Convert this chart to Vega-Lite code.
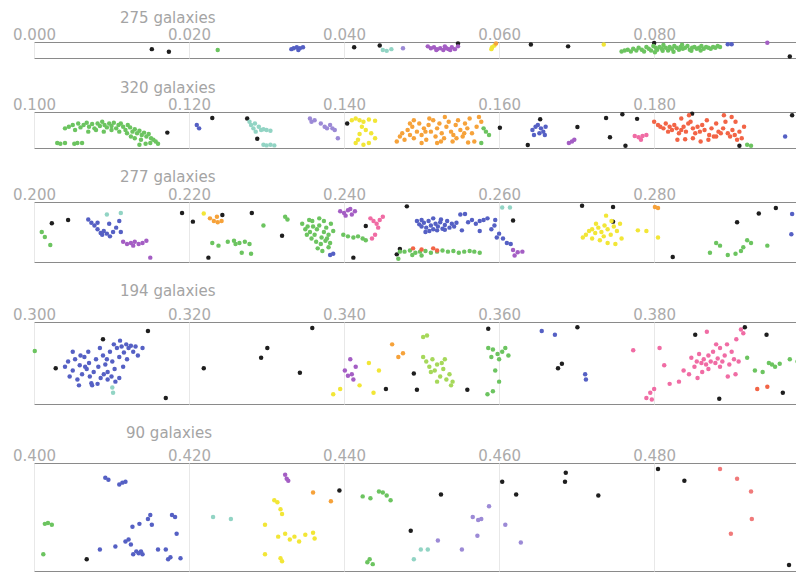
{
"$schema": "https://vega.github.io/schema/vega-lite/v6.json",
"background": "white",
"padding": {"left": 12, "top": 10, "right": 0, "bottom": 0},
"spacing": 20,
"config": {
 "view": {"stroke": "#8a8a8a", "strokeWidth": 1},
 "axis": {"labelFont": "DejaVu Sans", "labelFontSize": 15, "labelColor": "#ababab", "labelFlush": false, "ticks": false, "domain": false, "grid": true, "gridColor": "#e8e8e8", "labelPadding": 0, "title": null},
 "title": {"font": "DejaVu Sans", "fontSize": 15, "fontWeight": "normal", "color": "#a4a4a4", "anchor": "start", "frame": "group", "offset": 1, "dx": 86},
 "circle": {"size": 20, "opacity": 1}
},
"data": {"values": [
{"z":0.0152,"d":0.44,"g":"k"},{"z":0.0174,"d":0.62,"g":"k"},{"z":0.0413,"d":0.31,"g":"k"},{"z":0.0446,"d":0.19,"g":"k"},{"z":0.0547,"d":0.05,"g":"k"},{"z":0.0641,"d":0.12,"g":"k"},{"z":0.0689,"d":0.25,"g":"k"},{"z":0.08,"d":0.02,"g":"k"},{"z":0.0975,"d":0.94,"g":"k"},
{"z":0.0237,"d":0.5,"g":"gr"},
{"z":0.0332,"d":0.44,"g":"bl"},{"z":0.0335,"d":0.38,"g":"bl"},{"z":0.0339,"d":0.31,"g":"bl"},{"z":0.0343,"d":0.38,"g":"bl"},{"z":0.0347,"d":0.31,"g":"bl"},{"z":0.0341,"d":0.5,"g":"bl"},
{"z":0.045,"d":0.5,"g":"te"},{"z":0.0455,"d":0.56,"g":"te"},{"z":0.0461,"d":0.44,"g":"te"},
{"z":0.0476,"d":0.38,"g":"lb"},
{"z":0.0508,"d":0.25,"g":"pu"},{"z":0.0512,"d":0.38,"g":"pu"},{"z":0.0516,"d":0.31,"g":"pu"},{"z":0.052,"d":0.44,"g":"pu"},{"z":0.0524,"d":0.38,"g":"pu"},{"z":0.0528,"d":0.5,"g":"pu"},{"z":0.0532,"d":0.38,"g":"pu"},{"z":0.0535,"d":0.44,"g":"pu"},{"z":0.0539,"d":0.31,"g":"pu"},{"z":0.0543,"d":0.44,"g":"pu"},{"z":0.0547,"d":0.25,"g":"pu"},{"z":0.053,"d":0.25,"g":"pu"},{"z":0.0519,"d":0.5,"g":"pu"},{"z":0.0537,"d":0.5,"g":"pu"},
{"z":0.0591,"d":0.31,"g":"ye"},{"z":0.0594,"d":0.19,"g":"ye"},{"z":0.059,"d":0.44,"g":"ye"},{"z":0.0735,"d":0.12,"g":"ye"},
{"z":0.0596,"d":0.05,"g":"or"},
{"z":0.0758,"d":0.6,"g":"gr"},{"z":0.0762,"d":0.54,"g":"gr"},{"z":0.0766,"d":0.48,"g":"gr"},{"z":0.077,"d":0.6,"g":"gr"},{"z":0.0773,"d":0.41,"g":"gr"},{"z":0.0777,"d":0.54,"g":"gr"},{"z":0.078,"d":0.35,"g":"gr"},{"z":0.0784,"d":0.48,"g":"gr"},{"z":0.0787,"d":0.6,"g":"gr"},{"z":0.079,"d":0.29,"g":"gr"},{"z":0.0793,"d":0.41,"g":"gr"},{"z":0.0796,"d":0.54,"g":"gr"},{"z":0.0799,"d":0.22,"g":"gr"},{"z":0.0802,"d":0.35,"g":"gr"},{"z":0.0804,"d":0.48,"g":"gr"},{"z":0.0807,"d":0.29,"g":"gr"},{"z":0.081,"d":0.41,"g":"gr"},{"z":0.0812,"d":0.16,"g":"gr"},{"z":0.0815,"d":0.35,"g":"gr"},{"z":0.0818,"d":0.54,"g":"gr"},{"z":0.082,"d":0.29,"g":"gr"},{"z":0.0823,"d":0.41,"g":"gr"},{"z":0.0826,"d":0.22,"g":"gr"},{"z":0.0829,"d":0.35,"g":"gr"},{"z":0.0832,"d":0.48,"g":"gr"},{"z":0.0834,"d":0.29,"g":"gr"},{"z":0.0837,"d":0.41,"g":"gr"},{"z":0.084,"d":0.35,"g":"gr"},{"z":0.0843,"d":0.22,"g":"gr"},{"z":0.0846,"d":0.48,"g":"gr"},{"z":0.0849,"d":0.35,"g":"gr"},{"z":0.0852,"d":0.29,"g":"gr"},{"z":0.0855,"d":0.41,"g":"gr"},{"z":0.0858,"d":0.35,"g":"gr"},{"z":0.0861,"d":0.22,"g":"gr"},{"z":0.0864,"d":0.41,"g":"gr"},{"z":0.0867,"d":0.29,"g":"gr"},{"z":0.087,"d":0.35,"g":"gr"},{"z":0.0873,"d":0.41,"g":"gr"},{"z":0.0876,"d":0.29,"g":"gr"},{"z":0.0879,"d":0.35,"g":"gr"},{"z":0.0882,"d":0.22,"g":"gr"},{"z":0.0885,"d":0.29,"g":"gr"},{"z":0.0801,"d":0.66,"g":"gr"},{"z":0.0811,"d":0.56,"g":"gr"},{"z":0.0825,"d":0.62,"g":"gr"},{"z":0.0836,"d":0.14,"g":"gr"},{"z":0.0848,"d":0.56,"g":"gr"},{"z":0.086,"d":0.54,"g":"gr"},
{"z":0.0895,"d":0.1,"g":"bl"},{"z":0.09,"d":0.1,"g":"bl"},
{"z":0.0946,"d":0.0,"g":"pu"},

{"z":0.1172,"d":0.58,"g":"k"},{"z":0.123,"d":0.13,"g":"k"},{"z":0.1275,"d":0.15,"g":"k"},{"z":0.1288,"d":0.77,"g":"k"},{"z":0.1404,"d":0.3,"g":"k"},
{"z":0.1601,"d":0.43,"g":"k"},{"z":0.1653,"d":0.17,"g":"k"},{"z":0.1637,"d":0.96,"g":"k"},{"z":0.1701,"d":0.41,"g":"k"},{"z":0.1738,"d":0.13,"g":"k"},{"z":0.1759,"d":0.02,"g":"k"},{"z":0.1778,"d":0.16,"g":"k"},{"z":0.1743,"d":0.72,"g":"k"},{"z":0.1763,"d":0.98,"g":"k"},{"z":0.1849,"d":0.0,"g":"k"},{"z":0.191,"d":0.98,"g":"k"},{"z":0.1978,"d":0.05,"g":"k"},
{"z":0.104,"d":0.45,"g":"gr"},{"z":0.1045,"d":0.4,"g":"gr"},{"z":0.105,"d":0.35,"g":"gr"},{"z":0.1053,"d":0.5,"g":"gr"},{"z":0.1057,"d":0.3,"g":"gr"},{"z":0.106,"d":0.42,"g":"gr"},{"z":0.1064,"d":0.35,"g":"gr"},{"z":0.1068,"d":0.28,"g":"gr"},{"z":0.1071,"d":0.4,"g":"gr"},{"z":0.1075,"d":0.32,"g":"gr"},{"z":0.1078,"d":0.45,"g":"gr"},{"z":0.1082,"d":0.3,"g":"gr"},{"z":0.1085,"d":0.38,"g":"gr"},{"z":0.1088,"d":0.25,"g":"gr"},{"z":0.1091,"d":0.35,"g":"gr"},{"z":0.1094,"d":0.42,"g":"gr"},{"z":0.1097,"d":0.3,"g":"gr"},{"z":0.11,"d":0.38,"g":"gr"},{"z":0.1103,"d":0.28,"g":"gr"},{"z":0.1106,"d":0.45,"g":"gr"},{"z":0.1109,"d":0.35,"g":"gr"},{"z":0.1112,"d":0.3,"g":"gr"},{"z":0.1115,"d":0.4,"g":"gr"},{"z":0.1118,"d":0.5,"g":"gr"},{"z":0.1121,"d":0.35,"g":"gr"},{"z":0.1124,"d":0.42,"g":"gr"},{"z":0.1127,"d":0.55,"g":"gr"},{"z":0.113,"d":0.48,"g":"gr"},{"z":0.1133,"d":0.6,"g":"gr"},{"z":0.1136,"d":0.52,"g":"gr"},{"z":0.1139,"d":0.65,"g":"gr"},{"z":0.1142,"d":0.58,"g":"gr"},{"z":0.1145,"d":0.7,"g":"gr"},{"z":0.1148,"d":0.62,"g":"gr"},{"z":0.1151,"d":0.75,"g":"gr"},{"z":0.1154,"d":0.8,"g":"gr"},{"z":0.1157,"d":0.85,"g":"gr"},{"z":0.113,"d":0.75,"g":"gr"},{"z":0.1138,"d":0.8,"g":"gr"},{"z":0.1125,"d":0.7,"g":"gr"},{"z":0.112,"d":0.6,"g":"gr"},{"z":0.111,"d":0.55,"g":"gr"},{"z":0.11,"d":0.5,"g":"gr"},{"z":0.109,"d":0.55,"g":"gr"},{"z":0.108,"d":0.5,"g":"gr"},{"z":0.107,"d":0.55,"g":"gr"},
{"z":0.103,"d":0.9,"g":"gr"},{"z":0.1034,"d":0.92,"g":"gr"},{"z":0.104,"d":0.9,"g":"gr"},{"z":0.1052,"d":0.92,"g":"gr"},{"z":0.1056,"d":0.9,"g":"gr"},{"z":0.1062,"d":0.9,"g":"gr"},{"z":0.1136,"d":0.95,"g":"gr"},{"z":0.1144,"d":0.92,"g":"gr"},{"z":0.115,"d":0.9,"g":"gr"},{"z":0.116,"d":0.92,"g":"gr"},
{"z":0.121,"d":0.35,"g":"bl"},{"z":0.1213,"d":0.45,"g":"bl"},
{"z":0.1278,"d":0.25,"g":"te"},{"z":0.128,"d":0.35,"g":"te"},{"z":0.1283,"d":0.45,"g":"te"},{"z":0.1286,"d":0.55,"g":"te"},{"z":0.129,"d":0.4,"g":"te"},{"z":0.1293,"d":0.5,"g":"te"},{"z":0.1296,"d":0.48,"g":"te"},{"z":0.13,"d":0.5,"g":"te"},{"z":0.1305,"d":0.52,"g":"te"},{"z":0.1296,"d":0.95,"g":"te"},{"z":0.13,"d":0.97,"g":"te"},{"z":0.1305,"d":0.95,"g":"te"},{"z":0.131,"d":0.97,"g":"te"},{"z":0.1285,"d":0.3,"g":"te"},
{"z":0.1356,"d":0.15,"g":"lb"},{"z":0.1358,"d":0.25,"g":"lb"},{"z":0.1362,"d":0.2,"g":"lb"},{"z":0.137,"d":0.3,"g":"lb"},{"z":0.1375,"d":0.4,"g":"lb"},{"z":0.1378,"d":0.45,"g":"lb"},{"z":0.1382,"d":0.35,"g":"lb"},{"z":0.1385,"d":0.45,"g":"lb"},{"z":0.1392,"d":0.75,"g":"lb"},{"z":0.1388,"d":0.5,"g":"lb"},
{"z":0.141,"d":0.2,"g":"ye"},{"z":0.1415,"d":0.15,"g":"ye"},{"z":0.142,"d":0.2,"g":"ye"},{"z":0.1425,"d":0.25,"g":"ye"},{"z":0.1432,"d":0.18,"g":"ye"},{"z":0.144,"d":0.22,"g":"ye"},{"z":0.1423,"d":0.4,"g":"ye"},{"z":0.1428,"d":0.5,"g":"ye"},{"z":0.142,"d":0.62,"g":"ye"},{"z":0.1435,"d":0.6,"g":"ye"},{"z":0.1418,"d":0.8,"g":"ye"},{"z":0.1425,"d":0.95,"g":"ye"},{"z":0.1432,"d":0.9,"g":"ye"},{"z":0.144,"d":0.75,"g":"ye"},{"z":0.1415,"d":0.9,"g":"ye"},
{"z":0.1468,"d":0.85,"g":"or"},{"z":0.1472,"d":0.7,"g":"or"},{"z":0.1475,"d":0.6,"g":"or"},{"z":0.1478,"d":0.8,"g":"or"},{"z":0.1482,"d":0.5,"g":"or"},{"z":0.1485,"d":0.65,"g":"or"},{"z":0.1488,"d":0.4,"g":"or"},{"z":0.149,"d":0.75,"g":"or"},{"z":0.1494,"d":0.55,"g":"or"},{"z":0.1497,"d":0.3,"g":"or"},{"z":0.15,"d":0.65,"g":"or"},{"z":0.1503,"d":0.45,"g":"or"},{"z":0.1506,"d":0.8,"g":"or"},{"z":0.1509,"d":0.35,"g":"or"},{"z":0.1512,"d":0.55,"g":"or"},{"z":0.1515,"d":0.2,"g":"or"},{"z":0.1518,"d":0.7,"g":"or"},{"z":0.152,"d":0.45,"g":"or"},{"z":0.1523,"d":0.3,"g":"or"},{"z":0.1526,"d":0.6,"g":"or"},{"z":0.1529,"d":0.75,"g":"or"},{"z":0.1532,"d":0.4,"g":"or"},{"z":0.1535,"d":0.25,"g":"or"},{"z":0.1538,"d":0.55,"g":"or"},{"z":0.1541,"d":0.65,"g":"or"},{"z":0.1544,"d":0.35,"g":"or"},{"z":0.1547,"d":0.2,"g":"or"},{"z":0.155,"d":0.5,"g":"or"},{"z":0.1553,"d":0.7,"g":"or"},{"z":0.1556,"d":0.3,"g":"or"},{"z":0.1559,"d":0.45,"g":"or"},{"z":0.1562,"d":0.15,"g":"or"},{"z":0.1565,"d":0.6,"g":"or"},{"z":0.1568,"d":0.85,"g":"or"},{"z":0.1571,"d":0.4,"g":"or"},{"z":0.1574,"d":0.1,"g":"or"},{"z":0.1577,"d":0.25,"g":"or"},{"z":0.15,"d":0.9,"g":"or"},{"z":0.152,"d":0.9,"g":"or"},{"z":0.154,"d":0.85,"g":"or"},{"z":0.156,"d":0.88,"g":"or"},{"z":0.149,"d":0.2,"g":"or"},{"z":0.151,"d":0.15,"g":"or"},{"z":0.153,"d":0.1,"g":"or"},{"z":0.1555,"d":0.6,"g":"or"},{"z":0.1545,"d":0.75,"g":"or"},{"z":0.1525,"d":0.85,"g":"or"},{"z":0.1505,"d":0.55,"g":"or"},{"z":0.1485,"d":0.3,"g":"or"},
{"z":0.158,"d":0.45,"g":"gr"},{"z":0.1583,"d":0.55,"g":"gr"},{"z":0.1587,"d":0.65,"g":"gr"},{"z":0.1577,"d":0.9,"g":"gr"},
{"z":0.1643,"d":0.5,"g":"bl"},{"z":0.1647,"d":0.4,"g":"bl"},{"z":0.165,"d":0.35,"g":"bl"},{"z":0.1654,"d":0.45,"g":"bl"},{"z":0.1657,"d":0.55,"g":"bl"},{"z":0.166,"d":0.4,"g":"bl"},{"z":0.1652,"d":0.6,"g":"bl"},{"z":0.1645,"d":0.65,"g":"bl"},{"z":0.1659,"d":0.65,"g":"bl"},
{"z":0.169,"d":0.9,"g":"pu"},{"z":0.1694,"d":0.85,"g":"pu"},{"z":0.1697,"d":0.8,"g":"pu"},
{"z":0.1775,"d":0.68,"g":"pk"},{"z":0.178,"d":0.72,"g":"pk"},{"z":0.1785,"d":0.68,"g":"pk"},{"z":0.179,"d":0.65,"g":"pk"},{"z":0.1783,"d":0.8,"g":"pk"},
{"z":0.18,"d":0.25,"g":"rd"},{"z":0.1805,"d":0.35,"g":"rd"},{"z":0.1808,"d":0.4,"g":"rd"},{"z":0.1812,"d":0.45,"g":"rd"},{"z":0.1815,"d":0.3,"g":"rd"},{"z":0.1818,"d":0.55,"g":"rd"},{"z":0.182,"d":0.4,"g":"rd"},{"z":0.1823,"d":0.5,"g":"rd"},{"z":0.1826,"d":0.35,"g":"rd"},{"z":0.1829,"d":0.45,"g":"rd"},{"z":0.1832,"d":0.6,"g":"rd"},{"z":0.1835,"d":0.5,"g":"rd"},{"z":0.1838,"d":0.4,"g":"rd"},{"z":0.1841,"d":0.55,"g":"rd"},{"z":0.1844,"d":0.3,"g":"rd"},{"z":0.1847,"d":0.25,"g":"rd"},{"z":0.185,"d":0.45,"g":"rd"},{"z":0.1853,"d":0.6,"g":"rd"},{"z":0.1856,"d":0.4,"g":"rd"},{"z":0.1859,"d":0.55,"g":"rd"},{"z":0.1862,"d":0.35,"g":"rd"},{"z":0.1865,"d":0.5,"g":"rd"},{"z":0.1868,"d":0.2,"g":"rd"},{"z":0.1871,"d":0.65,"g":"rd"},{"z":0.1874,"d":0.45,"g":"rd"},{"z":0.1877,"d":0.7,"g":"rd"},{"z":0.188,"d":0.3,"g":"rd"},{"z":0.1883,"d":0.55,"g":"rd"},{"z":0.1886,"d":0.6,"g":"rd"},{"z":0.1889,"d":0.45,"g":"rd"},{"z":0.1892,"d":0.25,"g":"rd"},{"z":0.1895,"d":0.6,"g":"rd"},{"z":0.1898,"d":0.7,"g":"rd"},{"z":0.1901,"d":0.5,"g":"rd"},{"z":0.1904,"d":0.65,"g":"rd"},{"z":0.1907,"d":0.8,"g":"rd"},{"z":0.191,"d":0.55,"g":"rd"},{"z":0.1913,"d":0.75,"g":"rd"},{"z":0.1916,"d":0.4,"g":"rd"},{"z":0.183,"d":0.8,"g":"rd"},{"z":0.184,"d":0.78,"g":"rd"},{"z":0.185,"d":0.75,"g":"rd"},{"z":0.186,"d":0.85,"g":"rd"},{"z":0.187,"d":0.8,"g":"rd"},{"z":0.188,"d":0.7,"g":"rd"},{"z":0.19,"d":0.1,"g":"rd"},{"z":0.189,"d":0.05,"g":"rd"},{"z":0.1905,"d":0.25,"g":"rd"},{"z":0.1845,"d":0.05,"g":"rd"},{"z":0.1835,"d":0.15,"g":"rd"},
{"z":0.192,"d":0.95,"g":"gr"},{"z":0.1925,"d":0.98,"g":"gr"},
{"z":0.1969,"d":0.7,"g":"bl"},

{"z":0.2023,"d":0.34,"g":"k"},{"z":0.2044,"d":0.28,"g":"k"},{"z":0.2191,"d":0.15,"g":"k"},{"z":0.2205,"d":0.31,"g":"k"},{"z":0.2243,"d":0.19,"g":"k"},{"z":0.2281,"d":0.15,"g":"k"},{"z":0.232,"d":0.57,"g":"k"},{"z":0.2225,"d":0.97,"g":"k"},{"z":0.2412,"d":0.97,"g":"k"},{"z":0.2428,"d":0.39,"g":"k"},{"z":0.2468,"d":0.91,"g":"k"},
{"z":0.2481,"d":0.03,"g":"k"},{"z":0.2618,"d":0.29,"g":"k"},{"z":0.2707,"d":0.02,"g":"k"},{"z":0.2747,"d":0.04,"g":"k"},{"z":0.2747,"d":0.31,"g":"k"},{"z":0.2824,"d":0.96,"g":"k"},{"z":0.2907,"d":0.32,"g":"k"},{"z":0.2935,"d":0.16,"g":"k"},{"z":0.2957,"d":0.06,"g":"k"},{"z":0.2472,"d":0.81,"g":"k"},
{"z":0.201,"d":0.5,"g":"gr"},{"z":0.2014,"d":0.59,"g":"gr"},{"z":0.2021,"d":0.74,"g":"gr"},
{"z":0.207,"d":0.27,"g":"bl"},{"z":0.2074,"d":0.33,"g":"bl"},{"z":0.2078,"d":0.38,"g":"bl"},{"z":0.2082,"d":0.45,"g":"bl"},{"z":0.2086,"d":0.52,"g":"bl"},{"z":0.209,"d":0.48,"g":"bl"},{"z":0.2094,"d":0.53,"g":"bl"},{"z":0.2098,"d":0.58,"g":"bl"},{"z":0.2102,"d":0.5,"g":"bl"},{"z":0.2106,"d":0.42,"g":"bl"},{"z":0.2082,"d":0.33,"g":"bl"},{"z":0.2088,"d":0.55,"g":"bl"},{"z":0.2097,"d":0.35,"g":"bl"},{"z":0.211,"d":0.3,"g":"bl"},{"z":0.2112,"d":0.5,"g":"bl"},
{"z":0.2094,"d":0.18,"g":"te"},{"z":0.2112,"d":0.15,"g":"te"},
{"z":0.2115,"d":0.68,"g":"pu"},{"z":0.212,"d":0.72,"g":"pu"},{"z":0.2125,"d":0.7,"g":"pu"},{"z":0.213,"d":0.68,"g":"pu"},{"z":0.2135,"d":0.72,"g":"pu"},{"z":0.214,"d":0.7,"g":"pu"},{"z":0.2128,"d":0.75,"g":"pu"},{"z":0.2145,"d":0.66,"g":"pu"},{"z":0.215,"d":0.97,"g":"pu"},
{"z":0.2219,"d":0.16,"g":"ye"},
{"z":0.2227,"d":0.25,"g":"or"},{"z":0.2232,"d":0.3,"g":"or"},{"z":0.2237,"d":0.32,"g":"or"},{"z":0.2242,"d":0.3,"g":"or"},{"z":0.2236,"d":0.22,"g":"or"},
{"z":0.223,"d":0.7,"g":"gr"},{"z":0.2238,"d":0.75,"g":"gr"},{"z":0.225,"d":0.68,"g":"gr"},{"z":0.2258,"d":0.66,"g":"gr"},{"z":0.2265,"d":0.7,"g":"gr"},{"z":0.2272,"d":0.68,"g":"gr"},{"z":0.2278,"d":0.72,"g":"gr"},{"z":0.2268,"d":0.88,"g":"gr"},{"z":0.228,"d":0.9,"g":"gr"},{"z":0.226,"d":0.72,"g":"gr"},{"z":0.2296,"d":0.38,"g":"gr"},{"z":0.2324,"d":0.22,"g":"gr"},{"z":0.2327,"d":0.27,"g":"gr"},
{"z":0.2346,"d":0.35,"g":"gr"},{"z":0.235,"d":0.45,"g":"gr"},{"z":0.2353,"d":0.4,"g":"gr"},{"z":0.2356,"d":0.5,"g":"gr"},{"z":0.2359,"d":0.3,"g":"gr"},{"z":0.2362,"d":0.55,"g":"gr"},{"z":0.2365,"d":0.45,"g":"gr"},{"z":0.2368,"d":0.38,"g":"gr"},{"z":0.2371,"d":0.6,"g":"gr"},{"z":0.2374,"d":0.5,"g":"gr"},{"z":0.2377,"d":0.42,"g":"gr"},{"z":0.238,"d":0.55,"g":"gr"},{"z":0.2383,"d":0.35,"g":"gr"},{"z":0.2386,"d":0.48,"g":"gr"},{"z":0.2352,"d":0.55,"g":"gr"},{"z":0.2358,"d":0.62,"g":"gr"},{"z":0.2364,"d":0.68,"g":"gr"},{"z":0.237,"d":0.72,"g":"gr"},{"z":0.2376,"d":0.66,"g":"gr"},{"z":0.238,"d":0.78,"g":"gr"},{"z":0.2366,"d":0.8,"g":"gr"},{"z":0.2372,"d":0.85,"g":"gr"},{"z":0.236,"d":0.4,"g":"gr"},{"z":0.2368,"d":0.25,"g":"gr"},{"z":0.2374,"d":0.3,"g":"gr"},{"z":0.2378,"d":0.62,"g":"gr"},{"z":0.2355,"d":0.28,"g":"gr"},{"z":0.2382,"d":0.7,"g":"gr"},
{"z":0.2382,"d":0.92,"g":"bl"},{"z":0.2386,"d":0.9,"g":"bl"},
{"z":0.2399,"d":0.55,"g":"gr"},{"z":0.2405,"d":0.58,"g":"gr"},{"z":0.2412,"d":0.6,"g":"gr"},{"z":0.2418,"d":0.58,"g":"gr"},{"z":0.2424,"d":0.62,"g":"gr"},{"z":0.2428,"d":0.65,"g":"gr"},
{"z":0.2395,"d":0.12,"g":"pu"},{"z":0.24,"d":0.15,"g":"pu"},{"z":0.2405,"d":0.1,"g":"pu"},{"z":0.241,"d":0.18,"g":"pu"},{"z":0.2414,"d":0.12,"g":"pu"},{"z":0.2402,"d":0.2,"g":"pu"},{"z":0.2408,"d":0.08,"g":"pu"},
{"z":0.2434,"d":0.25,"g":"pk"},{"z":0.2438,"d":0.3,"g":"pk"},{"z":0.2442,"d":0.35,"g":"pk"},{"z":0.2446,"d":0.28,"g":"pk"},{"z":0.245,"d":0.22,"g":"pk"},{"z":0.2444,"d":0.42,"g":"pk"},{"z":0.244,"d":0.55,"g":"pk"},{"z":0.2436,"d":0.62,"g":"pk"},
{"z":0.247,"d":0.99,"g":"gr"},
{"z":0.2494,"d":0.3,"g":"bl"},{"z":0.2497,"d":0.36,"g":"bl"},{"z":0.25,"d":0.4,"g":"bl"},{"z":0.2503,"d":0.33,"g":"bl"},{"z":0.2506,"d":0.42,"g":"bl"},{"z":0.2509,"d":0.3,"g":"bl"},{"z":0.2512,"d":0.38,"g":"bl"},{"z":0.2515,"d":0.45,"g":"bl"},{"z":0.2518,"d":0.35,"g":"bl"},{"z":0.2521,"d":0.4,"g":"bl"},{"z":0.2524,"d":0.32,"g":"bl"},{"z":0.2527,"d":0.44,"g":"bl"},{"z":0.253,"d":0.37,"g":"bl"},{"z":0.2533,"d":0.3,"g":"bl"},{"z":0.2536,"d":0.42,"g":"bl"},{"z":0.2539,"d":0.35,"g":"bl"},{"z":0.2542,"d":0.4,"g":"bl"},{"z":0.2545,"d":0.33,"g":"bl"},{"z":0.25,"d":0.28,"g":"bl"},{"z":0.251,"d":0.48,"g":"bl"},{"z":0.252,"d":0.47,"g":"bl"},{"z":0.253,"d":0.46,"g":"bl"},{"z":0.2505,"d":0.5,"g":"bl"},{"z":0.2515,"d":0.25,"g":"bl"},{"z":0.2525,"d":0.27,"g":"bl"},
{"z":0.255,"d":0.18,"g":"bl"},{"z":0.2556,"d":0.17,"g":"bl"},{"z":0.256,"d":0.32,"g":"bl"},{"z":0.2565,"d":0.28,"g":"bl"},{"z":0.257,"d":0.35,"g":"bl"},{"z":0.2575,"d":0.3,"g":"bl"},{"z":0.258,"d":0.28,"g":"bl"},{"z":0.2585,"d":0.25,"g":"bl"},{"z":0.259,"d":0.45,"g":"bl"},{"z":0.2594,"d":0.38,"g":"bl"},{"z":0.26,"d":0.53,"g":"bl"},{"z":0.2597,"d":0.6,"g":"bl"},{"z":0.2605,"d":0.62,"g":"bl"},{"z":0.261,"d":0.7,"g":"bl"},{"z":0.2615,"d":0.72,"g":"bl"},{"z":0.2552,"d":0.47,"g":"bl"},{"z":0.2575,"d":0.48,"g":"bl"},{"z":0.2595,"d":0.28,"g":"bl"},
{"z":0.2618,"d":0.83,"g":"pu"},{"z":0.2624,"d":0.87,"g":"pu"},{"z":0.263,"d":0.86,"g":"pu"},{"z":0.262,"d":0.93,"g":"pu"},
{"z":0.2604,"d":0.05,"g":"te"},{"z":0.2614,"d":0.05,"g":"te"},
{"z":0.2472,"d":0.86,"g":"gr"},{"z":0.2478,"d":0.86,"g":"gr"},{"z":0.2485,"d":0.84,"g":"gr"},{"z":0.2492,"d":0.88,"g":"gr"},{"z":0.2498,"d":0.86,"g":"gr"},{"z":0.2505,"d":0.85,"g":"gr"},{"z":0.2512,"d":0.88,"g":"gr"},{"z":0.252,"d":0.86,"g":"gr"},{"z":0.2527,"d":0.84,"g":"gr"},{"z":0.2534,"d":0.86,"g":"gr"},{"z":0.2541,"d":0.85,"g":"gr"},{"z":0.2548,"d":0.88,"g":"gr"},{"z":0.2555,"d":0.86,"g":"gr"},{"z":0.2562,"d":0.85,"g":"gr"},{"z":0.2568,"d":0.86,"g":"gr"},{"z":0.2575,"d":0.88,"g":"gr"},{"z":0.2488,"d":0.92,"g":"gr"},{"z":0.25,"d":0.93,"g":"gr"},
{"z":0.2489,"d":0.8,"g":"rd"},{"z":0.25,"d":0.82,"g":"rd"},{"z":0.2515,"d":0.8,"g":"rd"},{"z":0.252,"d":0.84,"g":"rd"},
{"z":0.2708,"d":0.6,"g":"ye"},{"z":0.2712,"d":0.55,"g":"ye"},{"z":0.2716,"d":0.48,"g":"ye"},{"z":0.272,"d":0.45,"g":"ye"},{"z":0.2724,"d":0.52,"g":"ye"},{"z":0.2728,"d":0.42,"g":"ye"},{"z":0.2732,"d":0.5,"g":"ye"},{"z":0.2736,"d":0.38,"g":"ye"},{"z":0.274,"d":0.45,"g":"ye"},{"z":0.2744,"d":0.55,"g":"ye"},{"z":0.2748,"d":0.4,"g":"ye"},{"z":0.2752,"d":0.48,"g":"ye"},{"z":0.2756,"d":0.35,"g":"ye"},{"z":0.272,"d":0.62,"g":"ye"},{"z":0.273,"d":0.65,"g":"ye"},{"z":0.274,"d":0.7,"g":"ye"},{"z":0.275,"d":0.72,"g":"ye"},{"z":0.2735,"d":0.58,"g":"ye"},{"z":0.2745,"d":0.3,"g":"ye"},{"z":0.2725,"d":0.35,"g":"ye"},{"z":0.2738,"d":0.2,"g":"ye"},{"z":0.2758,"d":0.62,"g":"ye"},{"z":0.2779,"d":0.47,"g":"ye"},{"z":0.279,"d":0.48,"g":"ye"},{"z":0.2805,"d":0.6,"g":"ye"},
{"z":0.2801,"d":0.04,"g":"or"},{"z":0.2805,"d":0.06,"g":"or"},
{"z":0.2872,"d":0.88,"g":"gr"},{"z":0.288,"d":0.7,"g":"gr"},{"z":0.2885,"d":0.75,"g":"gr"},{"z":0.2895,"d":0.92,"g":"gr"},{"z":0.2905,"d":0.9,"g":"gr"},{"z":0.2912,"d":0.85,"g":"gr"},{"z":0.292,"d":0.65,"g":"gr"},{"z":0.2925,"d":0.7,"g":"gr"},{"z":0.2915,"d":0.78,"g":"gr"},{"z":0.2946,"d":0.75,"g":"gr"},
{"z":0.2978,"d":0.17,"g":"bl"},{"z":0.2977,"d":0.54,"g":"bl"},

{"z":0.3001,"d":0.34,"g":"gr"},
{"z":0.3028,"d":0.57,"g":"k"},{"z":0.3089,"d":0.18,"g":"k"},{"z":0.3147,"d":0.07,"g":"k"},{"z":0.317,"d":0.97,"g":"k"},{"z":0.3219,"d":0.57,"g":"k"},{"z":0.3301,"d":0.3,"g":"k"},{"z":0.3293,"d":0.43,"g":"k"},{"z":0.3343,"d":0.63,"g":"k"},{"z":0.3359,"d":0.03,"g":"k"},{"z":0.3454,"d":0.85,"g":"k"},
{"z":0.349,"d":0.64,"g":"k"},{"z":0.3494,"d":0.86,"g":"k"},{"z":0.3559,"d":0.86,"g":"k"},{"z":0.3586,"d":0.04,"g":"k"},{"z":0.3681,"d":0.51,"g":"k"},{"z":0.3676,"d":0.57,"g":"k"},{"z":0.3701,"d":0.02,"g":"k"},{"z":0.3853,"d":0.12,"g":"k"},{"z":0.3917,"d":0.02,"g":"k"},{"z":0.3945,"d":0.12,"g":"k"},{"z":0.3884,"d":0.98,"g":"k"},{"z":0.3966,"d":0.9,"g":"k"},
{"z":0.304,"d":0.55,"g":"bl"},{"z":0.3044,"d":0.48,"g":"bl"},{"z":0.3046,"d":0.68,"g":"bl"},{"z":0.305,"d":0.6,"g":"bl"},{"z":0.3053,"d":0.45,"g":"bl"},{"z":0.3056,"d":0.72,"g":"bl"},{"z":0.3059,"d":0.53,"g":"bl"},{"z":0.3062,"d":0.65,"g":"bl"},{"z":0.3065,"d":0.42,"g":"bl"},{"z":0.3068,"d":0.58,"g":"bl"},{"z":0.3071,"d":0.5,"g":"bl"},{"z":0.3074,"d":0.77,"g":"bl"},{"z":0.3077,"d":0.62,"g":"bl"},{"z":0.308,"d":0.45,"g":"bl"},{"z":0.3083,"d":0.55,"g":"bl"},{"z":0.3086,"d":0.7,"g":"bl"},{"z":0.3089,"d":0.4,"g":"bl"},{"z":0.3092,"d":0.52,"g":"bl"},{"z":0.3095,"d":0.62,"g":"bl"},{"z":0.3098,"d":0.35,"g":"bl"},{"z":0.3101,"d":0.48,"g":"bl"},{"z":0.3104,"d":0.58,"g":"bl"},{"z":0.3107,"d":0.3,"g":"bl"},{"z":0.311,"d":0.42,"g":"bl"},{"z":0.3113,"d":0.28,"g":"bl"},{"z":0.3116,"d":0.36,"g":"bl"},{"z":0.3119,"d":0.25,"g":"bl"},{"z":0.3122,"d":0.3,"g":"bl"},{"z":0.3125,"d":0.27,"g":"bl"},{"z":0.3128,"d":0.35,"g":"bl"},{"z":0.3131,"d":0.28,"g":"bl"},{"z":0.306,"d":0.4,"g":"bl"},{"z":0.307,"d":0.35,"g":"bl"},{"z":0.3085,"d":0.3,"g":"bl"},{"z":0.309,"d":0.65,"g":"bl"},{"z":0.3095,"d":0.72,"g":"bl"},{"z":0.31,"d":0.68,"g":"bl"},{"z":0.3105,"d":0.75,"g":"bl"},{"z":0.311,"d":0.7,"g":"bl"},{"z":0.3115,"d":0.55,"g":"bl"},{"z":0.312,"d":0.45,"g":"bl"},{"z":0.3075,"d":0.8,"g":"bl"},{"z":0.3082,"d":0.78,"g":"bl"},{"z":0.305,"d":0.35,"g":"bl"},{"z":0.3058,"d":0.8,"g":"bl"},{"z":0.3066,"d":0.55,"g":"bl"},{"z":0.3072,"d":0.68,"g":"bl"},{"z":0.3094,"d":0.45,"g":"bl"},{"z":0.3103,"d":0.25,"g":"bl"},{"z":0.3111,"d":0.2,"g":"bl"},{"z":0.3134,"d":0.4,"g":"bl"},{"z":0.314,"d":0.3,"g":"bl"},
{"z":0.3101,"d":0.83,"g":"te"},{"z":0.3102,"d":0.9,"g":"te"},
{"z":0.3401,"d":0.6,"g":"pu"},{"z":0.3405,"d":0.67,"g":"pu"},{"z":0.341,"d":0.65,"g":"pu"},{"z":0.3415,"d":0.55,"g":"pu"},{"z":0.3412,"d":0.72,"g":"pu"},{"z":0.3408,"d":0.45,"g":"pu"},
{"z":0.3386,"d":0.92,"g":"ye"},{"z":0.3395,"d":0.85,"g":"ye"},{"z":0.342,"d":0.8,"g":"ye"},{"z":0.3432,"d":0.5,"g":"ye"},{"z":0.3438,"d":0.9,"g":"ye"},{"z":0.3445,"d":0.6,"g":"ye"},
{"z":0.3462,"d":0.25,"g":"or"},{"z":0.347,"d":0.42,"g":"or"},{"z":0.3476,"d":0.37,"g":"or"},
{"z":0.3502,"d":0.15,"g":"li"},{"z":0.3507,"d":0.13,"g":"li"},{"z":0.3502,"d":0.42,"g":"li"},{"z":0.3506,"d":0.48,"g":"li"},{"z":0.351,"d":0.55,"g":"li"},{"z":0.3514,"d":0.45,"g":"li"},{"z":0.3517,"d":0.6,"g":"li"},{"z":0.352,"d":0.52,"g":"li"},{"z":0.3524,"d":0.68,"g":"li"},{"z":0.3528,"d":0.58,"g":"li"},{"z":0.3532,"d":0.72,"g":"li"},{"z":0.3536,"d":0.65,"g":"li"},{"z":0.353,"d":0.45,"g":"li"},{"z":0.3512,"d":0.62,"g":"li"},{"z":0.352,"d":0.75,"g":"li"},{"z":0.354,"d":0.75,"g":"li"},{"z":0.3526,"d":0.5,"g":"li"},{"z":0.3538,"d":0.8,"g":"li"},
{"z":0.3586,"d":0.3,"g":"gr"},{"z":0.3592,"d":0.32,"g":"gr"},{"z":0.3598,"d":0.38,"g":"gr"},{"z":0.3604,"d":0.35,"g":"gr"},{"z":0.3608,"d":0.3,"g":"gr"},{"z":0.3612,"d":0.4,"g":"gr"},{"z":0.36,"d":0.45,"g":"gr"},{"z":0.3595,"d":0.6,"g":"gr"},{"z":0.36,"d":0.75,"g":"gr"},{"z":0.3592,"d":0.88,"g":"gr"},{"z":0.3585,"d":0.92,"g":"gr"},{"z":0.359,"d":0.42,"g":"gr"},
{"z":0.3655,"d":0.07,"g":"bl"},{"z":0.3672,"d":0.12,"g":"bl"},{"z":0.3711,"d":0.65,"g":"bl"},{"z":0.3712,"d":0.72,"g":"bl"},
{"z":0.3773,"d":0.33,"g":"pk"},{"z":0.379,"d":0.97,"g":"pk"},{"z":0.3795,"d":0.9,"g":"pk"},{"z":0.38,"d":0.85,"g":"pk"},{"z":0.3797,"d":0.99,"g":"pk"},{"z":0.3807,"d":0.3,"g":"pk"},{"z":0.3813,"d":0.53,"g":"pk"},{"z":0.382,"d":0.78,"g":"pk"},{"z":0.3832,"d":0.75,"g":"pk"},{"z":0.3838,"d":0.6,"g":"pk"},{"z":0.3845,"d":0.65,"g":"pk"},{"z":0.3848,"d":0.43,"g":"pk"},{"z":0.3852,"d":0.55,"g":"pk"},{"z":0.3855,"d":0.48,"g":"pk"},{"z":0.3858,"d":0.38,"g":"pk"},{"z":0.3861,"d":0.5,"g":"pk"},{"z":0.3864,"d":0.45,"g":"pk"},{"z":0.3867,"d":0.52,"g":"pk"},{"z":0.387,"d":0.4,"g":"pk"},{"z":0.3873,"d":0.48,"g":"pk"},{"z":0.3876,"d":0.35,"g":"pk"},{"z":0.3879,"d":0.5,"g":"pk"},{"z":0.3882,"d":0.44,"g":"pk"},{"z":0.3885,"d":0.3,"g":"pk"},{"z":0.3888,"d":0.48,"g":"pk"},{"z":0.3891,"d":0.4,"g":"pk"},{"z":0.3894,"d":0.25,"g":"pk"},{"z":0.3897,"d":0.52,"g":"pk"},{"z":0.39,"d":0.35,"g":"pk"},{"z":0.3903,"d":0.45,"g":"pk"},{"z":0.3906,"d":0.18,"g":"pk"},{"z":0.3909,"d":0.48,"g":"pk"},{"z":0.3912,"d":0.05,"g":"pk"},{"z":0.3915,"d":0.1,"g":"pk"},{"z":0.388,"d":0.25,"g":"pk"},{"z":0.3885,"d":0.55,"g":"pk"},{"z":0.387,"d":0.58,"g":"pk"},{"z":0.3862,"d":0.62,"g":"pk"},{"z":0.3856,"d":0.7,"g":"pk"},{"z":0.3868,"d":0.08,"g":"pk"},{"z":0.3895,"d":0.68,"g":"pk"},{"z":0.3905,"d":0.65,"g":"pk"},
{"z":0.392,"d":0.43,"g":"gr"},{"z":0.393,"d":0.6,"g":"gr"},{"z":0.394,"d":0.62,"g":"gr"},{"z":0.3948,"d":0.5,"g":"gr"},{"z":0.3952,"d":0.52,"g":"gr"},{"z":0.3956,"d":0.55,"g":"gr"},{"z":0.3962,"d":0.51,"g":"gr"},{"z":0.3975,"d":0.45,"g":"gr"},{"z":0.3985,"d":0.48,"g":"gr"},
{"z":0.3933,"d":0.85,"g":"rd"},{"z":0.3946,"d":0.82,"g":"rd"},

{"z":0.4014,"d":0.57,"g":"gr"},{"z":0.4018,"d":0.56,"g":"gr"},{"z":0.4023,"d":0.58,"g":"gr"},{"z":0.4012,"d":0.88,"g":"gr"},
{"z":0.4068,"d":0.93,"g":"k"},{"z":0.4394,"d":0.23,"g":"k"},
{"z":0.4092,"d":0.1,"g":"bl"},{"z":0.4096,"d":0.12,"g":"bl"},{"z":0.411,"d":0.17,"g":"bl"},{"z":0.4114,"d":0.15,"g":"bl"},{"z":0.4118,"d":0.14,"g":"bl"},
{"z":0.4085,"d":0.83,"g":"bl"},{"z":0.4105,"d":0.8,"g":"bl"},{"z":0.4118,"d":0.75,"g":"bl"},{"z":0.4122,"d":0.73,"g":"bl"},{"z":0.4125,"d":0.78,"g":"bl"},{"z":0.4132,"d":0.85,"g":"bl"},{"z":0.4135,"d":0.87,"g":"bl"},{"z":0.4138,"d":0.85,"g":"bl"},{"z":0.414,"d":0.88,"g":"bl"},{"z":0.4128,"d":0.88,"g":"bl"},{"z":0.4136,"d":0.57,"g":"bl"},{"z":0.4147,"d":0.52,"g":"bl"},{"z":0.415,"d":0.48,"g":"bl"},{"z":0.4152,"d":0.58,"g":"bl"},{"z":0.416,"d":0.83,"g":"bl"},{"z":0.417,"d":0.83,"g":"bl"},{"z":0.4173,"d":0.93,"g":"bl"},{"z":0.4176,"d":0.91,"g":"bl"},{"z":0.4178,"d":0.48,"g":"bl"},{"z":0.4182,"d":0.5,"g":"bl"},{"z":0.4184,"d":0.67,"g":"bl"},{"z":0.4189,"d":0.92,"g":"bl"},{"z":0.4127,"d":0.6,"g":"bl"},
{"z":0.4231,"d":0.5,"g":"te"},{"z":0.4254,"d":0.52,"g":"te"},
{"z":0.4324,"d":0.07,"g":"pu"},{"z":0.4326,"d":0.11,"g":"pu"},{"z":0.4328,"d":0.13,"g":"pu"},
{"z":0.4298,"d":0.58,"g":"ye"},{"z":0.4298,"d":0.88,"g":"ye"},{"z":0.431,"d":0.33,"g":"ye"},{"z":0.4314,"d":0.35,"g":"ye"},{"z":0.4318,"d":0.42,"g":"ye"},{"z":0.432,"d":0.47,"g":"ye"},{"z":0.4315,"d":0.7,"g":"ye"},{"z":0.4318,"d":0.92,"g":"ye"},{"z":0.432,"d":0.95,"g":"ye"},{"z":0.4324,"d":0.67,"g":"ye"},{"z":0.433,"d":0.73,"g":"ye"},{"z":0.4336,"d":0.7,"g":"ye"},{"z":0.4342,"d":0.75,"g":"ye"},{"z":0.435,"d":0.68,"g":"ye"},{"z":0.4362,"d":0.72,"g":"ye"},{"z":0.436,"d":0.66,"g":"ye"},
{"z":0.436,"d":0.25,"g":"or"},{"z":0.4383,"d":0.34,"g":"or"},
{"z":0.4424,"d":0.29,"g":"gr"},{"z":0.4434,"d":0.31,"g":"gr"},{"z":0.4445,"d":0.24,"g":"gr"},{"z":0.445,"d":0.25,"g":"gr"},{"z":0.4455,"d":0.28,"g":"gr"},{"z":0.446,"d":0.33,"g":"gr"},{"z":0.443,"d":0.96,"g":"gr"},{"z":0.4433,"d":0.93,"g":"gr"},{"z":0.4437,"d":0.98,"g":"gr"},
{"z":0.4486,"d":0.64,"g":"k"},{"z":0.4525,"d":0.27,"g":"k"},{"z":0.4604,"d":0.14,"g":"k"},{"z":0.4622,"d":0.27,"g":"k"},{"z":0.4686,"d":0.05,"g":"k"},{"z":0.4685,"d":0.14,"g":"k"},{"z":0.4728,"d":0.28,"g":"k"},{"z":0.4805,"d":0.01,"g":"k"},{"z":0.4839,"d":0.13,"g":"k"},{"z":0.4974,"d":0.99,"g":"k"},
{"z":0.449,"d":0.93,"g":"te"},{"z":0.4499,"d":0.83,"g":"te"},{"z":0.4508,"d":0.83,"g":"te"},
{"z":0.4521,"d":0.74,"g":"lb"},{"z":0.4552,"d":0.83,"g":"lb"},{"z":0.4566,"d":0.5,"g":"lb"},{"z":0.4572,"d":0.69,"g":"lb"},{"z":0.4573,"d":0.53,"g":"lb"},{"z":0.4577,"d":0.52,"g":"lb"},{"z":0.4587,"d":0.39,"g":"lb"},{"z":0.4608,"d":0.58,"g":"lb"},{"z":0.4628,"d":0.76,"g":"lb"},
{"z":0.4885,"d":0.01,"g":"sa"},{"z":0.4907,"d":0.11,"g":"sa"},{"z":0.4925,"d":0.24,"g":"sa"},{"z":0.4926,"d":0.52,"g":"sa"},{"z":0.4899,"d":0.67,"g":"sa"}
]},
"vconcat": [
{"title": {"text": "275 galaxies"}, "width": 762, "height": 16,
 "transform": [{"filter": "datum.z < 0.1"}],
 "mark": "circle",
 "encoding": {
  "x": {"field": "z", "type": "quantitative", "scale": {"domain": [0, 0.0983], "nice": false, "zero": false}, "axis": {"orient": "top", "values": [0, 0.02, 0.04, 0.06, 0.08], "format": ".3f"}},
  "y": {"field": "d", "type": "quantitative", "scale": {"domain": [-0.05, 1.05], "reverse": true, "nice": false, "zero": false}, "axis": null},
  "color": {"field": "g", "type": "nominal", "legend": null, "scale": {"domain": ["k","gr","pu","bl","te","ye","or","rd","pk","li","lb","sa"], "range": ["#1e1e1e","#6cc460","#a45ec4","#5560c4","#92d4c4","#f2e636","#f6a23a","#f26446","#f06ca4","#a6d85a","#9c8ad6","#f07a7a"]}}
 }},
{"title": {"text": "320 galaxies"}, "width": 762, "height": 36,
 "transform": [{"filter": "datum.z >= 0.1 && datum.z < 0.2"}],
 "mark": "circle",
 "encoding": {
  "x": {"field": "z", "type": "quantitative", "scale": {"domain": [0.1, 0.1983], "nice": false, "zero": false}, "axis": {"orient": "top", "values": [0.1, 0.12, 0.14, 0.16, 0.18], "format": ".3f"}},
  "y": {"field": "d", "type": "quantitative", "scale": {"domain": [-0.05, 1.05], "reverse": true, "nice": false, "zero": false}, "axis": null},
  "color": {"field": "g", "type": "nominal", "legend": null, "scale": {"domain": ["k","gr","pu","bl","te","ye","or","rd","pk","li","lb","sa"], "range": ["#1e1e1e","#6cc460","#a45ec4","#5560c4","#92d4c4","#f2e636","#f6a23a","#f26446","#f06ca4","#a6d85a","#9c8ad6","#f07a7a"]}}
 }},
{"title": {"text": "277 galaxies", "offset": 2}, "width": 762, "height": 60,
 "transform": [{"filter": "datum.z >= 0.2 && datum.z < 0.3"}],
 "mark": "circle",
 "encoding": {
  "x": {"field": "z", "type": "quantitative", "scale": {"domain": [0.2, 0.2983], "nice": false, "zero": false}, "axis": {"orient": "top", "values": [0.2, 0.22, 0.24, 0.26, 0.28], "format": ".3f"}},
  "y": {"field": "d", "type": "quantitative", "scale": {"domain": [-0.05, 1.05], "reverse": true, "nice": false, "zero": false}, "axis": null},
  "color": {"field": "g", "type": "nominal", "legend": null, "scale": {"domain": ["k","gr","pu","bl","te","ye","or","rd","pk","li","lb","sa"], "range": ["#1e1e1e","#6cc460","#a45ec4","#5560c4","#92d4c4","#f2e636","#f6a23a","#f26446","#f06ca4","#a6d85a","#9c8ad6","#f07a7a"]}}
 }},
{"title": {"text": "194 galaxies", "offset": 8}, "width": 762, "height": 82,
 "transform": [{"filter": "datum.z >= 0.3 && datum.z < 0.4"}],
 "mark": "circle",
 "encoding": {
  "x": {"field": "z", "type": "quantitative", "scale": {"domain": [0.3, 0.3983], "nice": false, "zero": false}, "axis": {"orient": "top", "values": [0.3, 0.32, 0.34, 0.36, 0.38], "format": ".3f"}},
  "y": {"field": "d", "type": "quantitative", "scale": {"domain": [-0.05, 1.05], "reverse": true, "nice": false, "zero": false}, "axis": null},
  "color": {"field": "g", "type": "nominal", "legend": null, "scale": {"domain": ["k","gr","pu","bl","te","ye","or","rd","pk","li","lb","sa"], "range": ["#1e1e1e","#6cc460","#a45ec4","#5560c4","#92d4c4","#f2e636","#f6a23a","#f26446","#f06ca4","#a6d85a","#9c8ad6","#f07a7a"]}}
 }},
{"title": {"text": "90 galaxies", "offset": 7, "dx": 92}, "width": 762, "height": 108,
 "transform": [{"filter": "datum.z >= 0.4"}],
 "mark": "circle",
 "encoding": {
  "x": {"field": "z", "type": "quantitative", "scale": {"domain": [0.4, 0.4983], "nice": false, "zero": false}, "axis": {"orient": "top", "values": [0.4, 0.42, 0.44, 0.46, 0.48], "format": ".3f"}},
  "y": {"field": "d", "type": "quantitative", "scale": {"domain": [-0.05, 1.05], "reverse": true, "nice": false, "zero": false}, "axis": null},
  "color": {"field": "g", "type": "nominal", "legend": null, "scale": {"domain": ["k","gr","pu","bl","te","ye","or","rd","pk","li","lb","sa"], "range": ["#1e1e1e","#6cc460","#a45ec4","#5560c4","#92d4c4","#f2e636","#f6a23a","#f26446","#f06ca4","#a6d85a","#9c8ad6","#f07a7a"]}}
 }}
]
}
